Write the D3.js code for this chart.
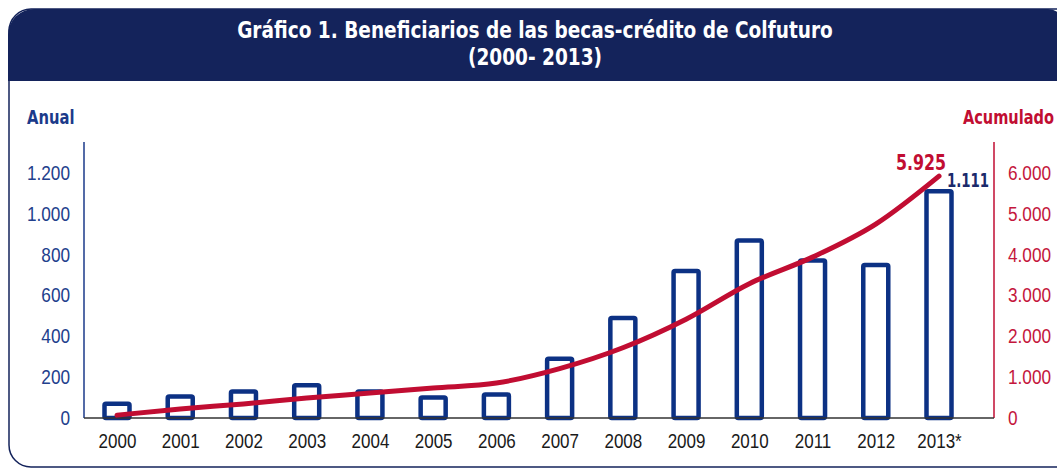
<!DOCTYPE html>
<html>
<head>
<meta charset="utf-8">
<script src="https://cdn.jsdelivr.net/npm/d3@7"></script>
<style>
  body { margin: 0; background: #fff; }
  svg { display: block; font-family: "DejaVu Sans Condensed", "DejaVu Sans", sans-serif; }
</style>
</head>
<body>
<div id="chart"></div>
<script>
// Data
const years = ["2000", "2001", "2002", "2003", "2004", "2005", "2006", "2007", "2008", "2009", "2010", "2011", "2012", "2013*"];
const anual = [70, 105, 130, 160, 130, 100, 115, 290, 490, 720, 870, 772, 750, 1111];
const acumulado = [70, 220, 345, 490, 610, 735, 855, 1210, 1720, 2420, 3290, 3940, 4750, 5925];
const leftTicks = [0, 200, 400, 600, 800, 1000, 1200];
const rightTicks = [0, 1000, 2000, 3000, 4000, 5000, 6000];

const width = 1057;
const height = 470;

const navy = "#14235b";
const barBlue = "#0c3184";
const red = "#c10d32";

// Spanish number format (dot as thousands separator)
const fmt = d3.formatLocale({ decimal: ",", thousands: ".", grouping: [3], currency: ["$", ""] }).format(",d");

// Narrow the text horizontally (the original uses a condensed face)
function squeeze(sel, k) {
  sel.each(function () {
    const len = this.getComputedTextLength();
    d3.select(this)
      .attr("textLength", len * k)
      .attr("lengthAdjust", "spacingAndGlyphs");
  });
}

const svg = d3.select("#chart")
  .append("svg")
  .attr("width", width)
  .attr("height", height);

// Frame and title band
svg.append("rect")
  .attr("x", 9)
  .attr("y", 9)
  .attr("width", 1080)
  .attr("height", 458)
  .attr("rx", 22)
  .attr("fill", "#fff")
  .attr("stroke", navy)
  .attr("stroke-width", 1.5);

const bandPath = d3.path();
bandPath.moveTo(8, 81);
bandPath.lineTo(8, 35);
bandPath.arcTo(8, 9, 34, 9, 26);
bandPath.lineTo(1048, 9);
bandPath.arcTo(1064, 9, 1064, 25, 16);
bandPath.lineTo(1064, 81);
bandPath.closePath();

svg.append("path")
  .attr("d", bandPath.toString())
  .attr("fill", navy);

const title = svg.append("g")
  .attr("fill", "#fff")
  .attr("text-anchor", "middle")
  .style("font-weight", "bold")
  .style("font-size", "23px");

title.append("text")
  .attr("x", 535)
  .attr("y", 38)
  .text("Gráfico 1. Beneficiarios de las becas-crédito de Colfuturo");

title.append("text")
  .attr("x", 535)
  .attr("y", 65)
  .text("(2000- 2013)");

squeeze(title.selectAll("text"), 0.895);

// Scales
const x = d3.scalePoint()
  .domain(years)
  .range([117, 939]);

const yLeft = d3.scaleLinear()
  .domain([0, 1200])
  .range([418, 173]);

const yRight = d3.scaleLinear()
  .domain([0, 6000])
  .range([418, 173]);

// Axis titles
const anualTitle = svg.append("text")
  .attr("x", 27)
  .attr("y", 124)
  .attr("fill", "#1b3a8a")
  .style("font-weight", "bold")
  .style("font-size", "20px")
  .text("Anual");
squeeze(anualTitle, 0.82);

// right title is squeezed with a transform so it stays inside the page
svg.append("text")
  .attr("transform", "translate(1054,124) scale(0.81,1)")
  .attr("text-anchor", "end")
  .attr("fill", red)
  .style("font-weight", "bold")
  .style("font-size", "20px")
  .text("Acumulado");

// Left axis
const leftAxis = svg.append("g")
  .attr("transform", "translate(84,0)")
  .call(d3.axisLeft(yLeft).tickValues(leftTicks).tickFormat(fmt).tickSize(0).tickPadding(14));

leftAxis.select(".domain").remove();
leftAxis.selectAll("text")
  .attr("fill", "#22408c")
  .style("font-size", "20px")
  .style("font-family", null);
squeeze(leftAxis.selectAll("text"), 0.86);

svg.append("line")
  .attr("x1", 84).attr("x2", 84)
  .attr("y1", 142).attr("y2", 418)
  .attr("stroke", "#1b3a8a")
  .attr("stroke-width", 1.5);

// Right axis
const rightAxis = svg.append("g")
  .attr("transform", "translate(994,0)")
  .call(d3.axisRight(yRight).tickValues(rightTicks).tickFormat(fmt).tickSize(0).tickPadding(14));

rightAxis.select(".domain").remove();
rightAxis.selectAll("text")
  .attr("fill", "#c4163c")
  .style("font-size", "20px")
  .style("font-family", null);
squeeze(rightAxis.selectAll("text"), 0.86);

svg.append("line")
  .attr("x1", 994).attr("x2", 994)
  .attr("y1", 142).attr("y2", 418)
  .attr("stroke", red)
  .attr("stroke-width", 1.5);

// Bottom axis (year labels)
const bottomAxis = svg.append("g")
  .attr("transform", "translate(0,418)")
  .call(d3.axisBottom(x).tickSize(0).tickPadding(16));

bottomAxis.select(".domain").remove();
bottomAxis.selectAll("text")
  .attr("fill", "#1a1a1a")
  .style("font-size", "20px")
  .style("font-family", null);
squeeze(bottomAxis.selectAll("text"), 0.85);

// Bars
const barW = 25;
svg.append("g")
  .selectAll("rect")
  .data(anual)
  .join("rect")
  .attr("x", (d, i) => x(years[i]) - barW / 2)
  .attr("y", d => yLeft(d))
  .attr("width", barW)
  .attr("height", d => yLeft(0) - yLeft(d))
  .attr("rx", 1.5)
  .attr("fill", "#fff")
  .attr("stroke", barBlue)
  .attr("stroke-width", 4.5);

// Baseline
svg.append("line")
  .attr("x1", 84).attr("x2", 994)
  .attr("y1", 418).attr("y2", 418)
  .attr("stroke", "#333")
  .attr("stroke-width", 1.5);

// Cumulative line
const line = d3.line()
  .x((d, i) => x(years[i]))
  .y(d => yRight(d))
  .curve(d3.curveMonotoneX);

svg.append("path")
  .datum(acumulado)
  .attr("d", line)
  .attr("fill", "none")
  .attr("stroke", red)
  .attr("stroke-width", 5)
  .attr("stroke-linecap", "round");

// Value labels for the last year
const last = years.length - 1;
const acumLabel = svg.append("text")
  .attr("x", x(years[last]) - 18)
  .attr("y", yRight(acumulado[last]) - 6)
  .attr("text-anchor", "middle")
  .attr("fill", red)
  .style("font-weight", "bold")
  .style("font-size", "22px")
  .text(fmt(acumulado[last]));
squeeze(acumLabel, 0.8);

const anualLabel = svg.append("text")
  .attr("x", x(years[last]) + 8)
  .attr("y", yLeft(anual[last]) - 4)
  .attr("fill", "#1b2a6b")
  .style("font-weight", "bold")
  .style("font-size", "20px")
  .text(fmt(anual[last]));
squeeze(anualLabel, 0.74);
</script>
</body>
</html>
